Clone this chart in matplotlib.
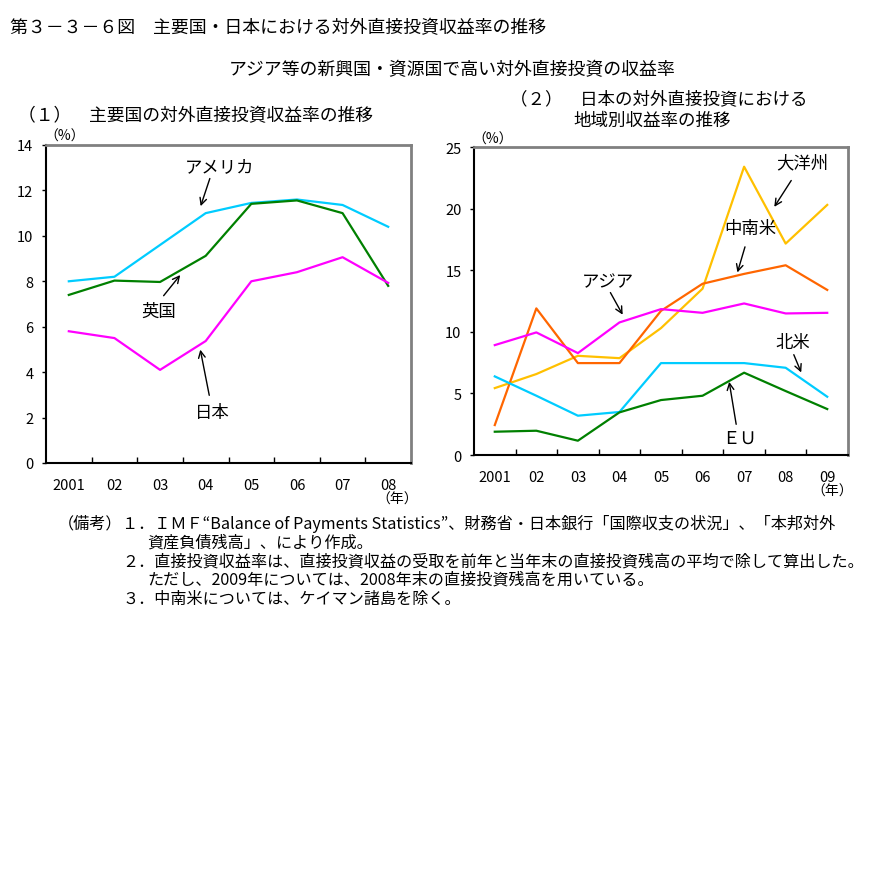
import matplotlib
matplotlib.use("Agg")
import matplotlib.pyplot as plt
from matplotlib.ticker import FixedLocator

plt.rcParams['font.family'] = ['Noto Sans CJK JP', 'DejaVu Sans']

W, H = 894, 878

# (1) 主要国
years1 = ['2001', '02', '03', '04', '05', '06', '07', '08']
usa = [8.0, 8.2, 9.6, 11.0, 11.45, 11.6, 11.36, 10.4]
uk = [7.4, 8.03, 7.97, 9.12, 11.41, 11.56, 11.0, 7.8]
japan = [5.8, 5.5, 4.1, 5.37, 8.0, 8.4, 9.06, 7.93]

# (2) 地域別
years2 = ['2001', '02', '03', '04', '05', '06', '07', '08', '09']
oceania = [5.43, 6.57, 8.05, 7.86, 10.3, 13.5, 23.4, 17.16, 20.3]
latam = [2.43, 11.9, 7.46, 7.46, 11.7, 13.9, 14.7, 15.4, 13.4]
asia = [8.92, 9.95, 8.27, 10.76, 11.84, 11.54, 12.3, 11.49, 11.54]
namerica = [6.38, 4.81, 3.19, 3.49, 7.46, 7.46, 7.46, 7.08, 4.73]
eu = [1.89, 1.97, 1.16, 3.46, 4.46, 4.81, 6.68, 5.19, 3.73]

CYAN = '#00CCFF'
GREEN = '#008000'
MAGENTA = '#FF00FF'
ORANGE = '#FF6600'
GOLD = '#FFC000'

fig = plt.figure(figsize=(W / 100, H / 100), dpi=100)


def ftext(x, y, s, **kw):
    fig.text(x / W, 1 - y / H, s, va='center', **kw)


def setup(ax, labels, ymax, ystep):
    n = len(labels)
    ax.set_xlim(-0.5, n - 0.5)
    ax.set_ylim(0, ymax)
    ax.set_yticks(range(0, ymax + 1, ystep))
    ax.set_xticks(range(n))
    ax.set_xticklabels(labels)
    ax.xaxis.set_minor_locator(FixedLocator([i + 0.5 for i in range(n - 1)]))
    ax.tick_params(axis='x', which='major', length=0, pad=11, labelsize=10.5)
    ax.tick_params(axis='x', which='minor', direction='in', length=4, width=1)
    ax.tick_params(axis='y', direction='out', length=3, width=1, labelsize=10.5, pad=6)
    for s in ['top', 'right']:
        ax.spines[s].set_color('#808080')
        ax.spines[s].set_linewidth(2)
    for s in ['left', 'bottom']:
        ax.spines[s].set_color('black')
        ax.spines[s].set_linewidth(1.5)


def note(ax, s, xy, xytext, tip):
    ax.annotate('', xy=tip, xytext=xytext,
                arrowprops=dict(arrowstyle='->', color='black', lw=1, mutation_scale=12))
    ax.text(xy[0], xy[1], s, ha='center', va='center', fontsize=12.5)


# left chart
ax1 = fig.add_axes([46 / W, 1 - 464 / H, 365 / W, 318 / H])
setup(ax1, years1, 14, 2)
x1 = range(len(years1))
ax1.plot(x1, usa, color=CYAN, lw=1.6)
ax1.plot(x1, uk, color=GREEN, lw=1.6)
ax1.plot(x1, japan, color=MAGENTA, lw=1.6)
note(ax1, 'アメリカ', (3.31, 13.08), (3.11, 12.64), (2.87, 11.19))
note(ax1, '英国', (1.97, 6.70), (2.04, 7.27), (2.48, 8.37))
note(ax1, '日本', (3.14, 2.25), (3.09, 2.86), (2.87, 5.11))

# right chart
ax2 = fig.add_axes([474 / W, 1 - 456 / H, 374 / W, 308 / H])
setup(ax2, years2, 25, 5)
x2 = range(len(years2))
ax2.plot(x2, oceania, color=GOLD, lw=1.6)
ax2.plot(x2, latam, color=ORANGE, lw=1.6)
ax2.plot(x2, asia, color=MAGENTA, lw=1.6)
ax2.plot(x2, namerica, color=CYAN, lw=1.6)
ax2.plot(x2, eu, color=GREEN, lw=1.6)
note(ax2, '大洋州', (7.41, 23.76), (7.17, 22.47), (6.69, 19.95))
note(ax2, '中南米', (6.16, 18.41), (6.04, 17.11), (5.82, 14.6))
note(ax2, 'アジア', (2.72, 14.11), (2.75, 13.38), (3.11, 11.19))
note(ax2, '北米', (7.17, 9.16), (7.17, 8.35), (7.40, 6.49))
note(ax2, 'ＥＵ', (5.89, 1.38), (5.82, 2.27), (5.63, 6.16))

# units
ftext(65, 137, '（%）', ha='center', fontsize=10)
ftext(493, 140, '（%）', ha='center', fontsize=10)
ftext(397, 500, '（年）', ha='center', fontsize=10)
ftext(832, 492, '（年）', ha='center', fontsize=10)

# headings
ftext(10, 28, '第３－３－６図　主要国・日本における対外直接投資収益率の推移', ha='left', fontsize=12.9)
ftext(452, 70, 'アジア等の新興国・資源国で高い対外直接投資の収益率', ha='center', fontsize=12.9)
ftext(18, 116, '（１）　主要国の対外直接投資収益率の推移', ha='left', fontsize=12.8)
ftext(510, 99, '（２）　日本の対外直接投資における', ha='left', fontsize=12.6)
ftext(573, 121, '地域別収益率の推移', ha='left', fontsize=12.6)

# notes
fs = 11.6
ftext(58, 524, '（備考）', ha='left', fontsize=fs)
ftext(122, 524, '１．ＩＭＦ“Balance of Payments Statistics”、財務省・日本銀行「国際収支の状況」、「本邦対外', ha='left', fontsize=fs)
ftext(147, 543, '資産負債残高」、により作成。', ha='left', fontsize=fs)
ftext(122, 562, '２．直接投資収益率は、直接投資収益の受取を前年と当年末の直接投資残高の平均で除して算出した。', ha='left', fontsize=fs)
ftext(147, 580, 'ただし、2009年については、2008年末の直接投資残高を用いている。', ha='left', fontsize=fs)
ftext(122, 599, '３．中南米については、ケイマン諸島を除く。', ha='left', fontsize=fs)

fig.savefig('out.png', dpi=100, facecolor='white')
